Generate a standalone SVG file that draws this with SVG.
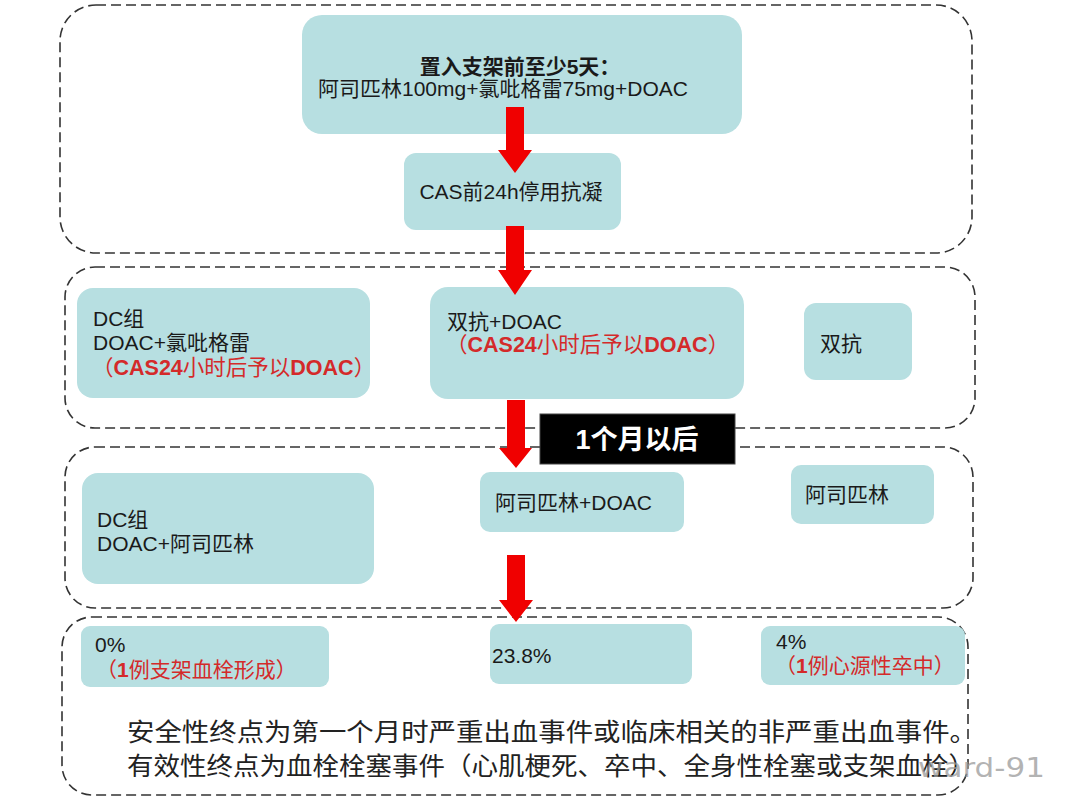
<svg xmlns="http://www.w3.org/2000/svg" width="1080" height="810" viewBox="0 0 1080 810">
<defs>
<style>
.grp{fill:none;stroke:#333;stroke-width:1.6;stroke-dasharray:10 5}
.node{fill:#b7dfe1}
.t{font-family:"Liberation Sans","Noto Sans CJK SC",sans-serif;font-size:21px;fill:#1a1a1a}
.r{fill:#d42a2a}
.b{font-weight:bold}
.arrow{fill:#f00000}
</style>
</defs>
<rect width="1080" height="810" fill="#fff"/>
<g id="groups">
<rect class="grp" x="60" y="5" width="912" height="248" rx="36"/>
<rect class="grp" x="65" y="267" width="910" height="161" rx="30"/>
<rect class="grp" x="65" y="447" width="908" height="161" rx="30"/>
<rect class="grp" x="62" y="617" width="906" height="178" rx="30"/>
</g>
<g id="n-top">
<rect class="node" x="302" y="15" width="440" height="119" rx="20"/>
<text class="t b" x="520" y="74" text-anchor="middle">置入支架前至少5天：</text>
<text class="t" x="503" y="96" text-anchor="middle">阿司匹林100mg+氯吡格雷75mg+DOAC</text>
</g>
<g id="n-cas">
<rect class="node" x="404" y="153" width="217" height="77" rx="12"/>
<text class="t" x="511" y="199" text-anchor="middle">CAS前24h停用抗凝</text>
</g>
<g id="n-dc1">
<rect class="node" x="77" y="288" width="293" height="110" rx="16"/>
<text class="t" x="93" y="326">DC组</text>
<text class="t" x="93" y="350">DOAC+氯吡格雷</text>
<text class="t r" x="92" y="375" style="font-size:21.5px">（<tspan class="b">CAS24</tspan>小时后予以<tspan class="b">DOAC</tspan>）</text>
</g>
<g id="n-dual-doac">
<rect class="node" x="430" y="287" width="314" height="112" rx="18"/>
<text class="t" x="447" y="329">双抗+DOAC</text>
<text class="t r" x="446" y="352" style="font-size:21.5px">（<tspan class="b">CAS24</tspan>小时后予以<tspan class="b">DOAC</tspan>）</text>
</g>
<g id="n-dual">
<rect class="node" x="804" y="303" width="108" height="77" rx="12"/>
<text class="t" x="820" y="351">双抗</text>
</g>
<g id="n-month">
<rect x="540" y="414" width="195" height="50" fill="#000" stroke="#444" stroke-width="1"/>
<text class="t b" x="637" y="449" text-anchor="middle" style="font-size:27px;fill:#fff">1个月以后</text>
</g>
<g id="n-dc2">
<rect class="node" x="82" y="473" width="292" height="111" rx="16"/>
<text class="t" x="97" y="527">DC组</text>
<text class="t" x="97" y="551">DOAC+阿司匹林</text>
</g>
<g id="n-asp-doac">
<rect class="node" x="480" y="472" width="204" height="60" rx="10"/>
<text class="t" x="495" y="510">阿司匹林+DOAC</text>
</g>
<g id="n-asp">
<rect class="node" x="791" y="465" width="143" height="59" rx="10"/>
<text class="t" x="805" y="502">阿司匹林</text>
</g>
<g id="n-r1">
<rect class="node" x="81" y="626" width="248" height="61" rx="9"/>
<text class="t" x="95" y="652">0%</text>
<text class="t r" x="96" y="677">（<tspan class="b">1</tspan>例支架血栓形成）</text>
</g>
<g id="n-r2">
<rect class="node" x="490" y="624" width="202" height="60" rx="9"/>
<text class="t" x="492" y="663">23.8%</text>
</g>
<g id="n-r3">
<rect class="node" x="761" y="626" width="204" height="59" rx="9"/>
<text class="t" x="776" y="649">4%</text>
<text class="t r" x="775" y="673">（<tspan class="b">1</tspan>例心源性卒中）</text>
</g>
<g id="notes">
<text class="t" x="127" y="741" textLength="850" lengthAdjust="spacingAndGlyphs" style="font-size:25px;fill:#222">安全性终点为第一个月时严重出血事件或临床相关的非严重出血事件。</text>
<text class="t" x="127" y="775" textLength="848" lengthAdjust="spacingAndGlyphs" style="font-size:25px;fill:#222">有效性终点为血栓栓塞事件（心肌梗死、卒中、全身性栓塞或支架血栓）</text>
<text x="918" y="777" font-family="'DejaVu Sans',sans-serif" font-size="27" textLength="127" lengthAdjust="spacingAndGlyphs" fill="#9a9a9a" fill-opacity="0.75">ward-91</text>
</g>
<g id="connectors">
<polygon class="arrow" points="506,107 524,107 524,150 532,150 515,173 498,150 506,150"/>
<polygon class="arrow" points="506,226 524,226 524,270 532,270 515,295 498,270 506,270"/>
<polygon class="arrow" points="507,400 525,400 525,448 532,448 516,468 499,448 507,448"/>
<polygon class="arrow" points="507,555 525,555 525,600 533,600 516,622 499,600 507,600"/>
</g>
</svg>
